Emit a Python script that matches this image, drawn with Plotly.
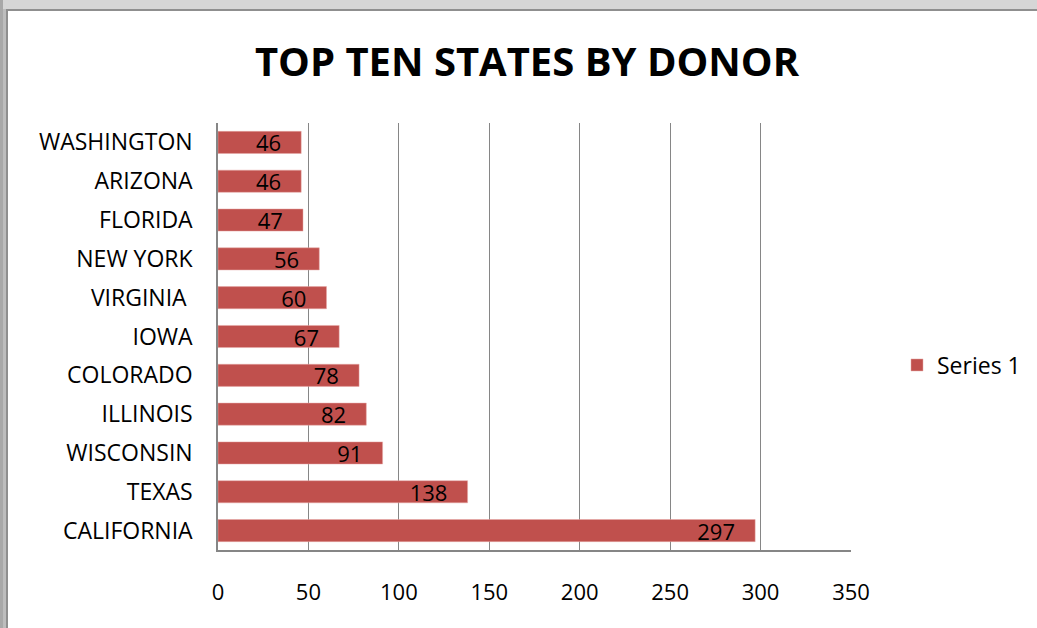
import plotly.graph_objects as go

states = ["CALIFORNIA", "TEXAS", "WISCONSIN", "ILLINOIS", "COLORADO", "IOWA",
          "VIRGINIA ", "NEW YORK", "FLORIDA", "ARIZONA", "WASHINGTON"]
donors = [297, 138, 91, 82, 78, 67, 60, 56, 47, 46, 46]
x_ticks = [0, 50, 100, 150, 200, 250, 300, 350]
series_name = "Series 1"

W, H = 1037, 628
ML, MR, MT, MB = 218, 186, 123, 78
PW, PH = W - ML - MR, H - MT - MB

def px_x(p):
    return (p - ML) / PW

def px_y(p):
    return (H - MB - p) / PH

FONT = "Open Sans"
BAR = "#C0504D"
AXIS = "#868686"
PAD = "\u00a0\u00a0\u00a0"

fig = go.Figure(go.Bar(
    y=states, x=donors, orientation="h", name=series_name,
    marker=dict(color=BAR, line=dict(color="#E6A8A6", width=0.5)),
    width=0.57,
    text=[str(v) + PAD for v in donors], textposition="inside", insidetextanchor="end",
    textangle=0, constraintext="none",
    textfont=dict(family=FONT, size=22, color="black"),
    showlegend=True,
))

shapes = [
    dict(type="rect", xref="paper", yref="paper", x0=px_x(0), x1=px_x(W), y0=px_y(H), y1=px_y(0),
         fillcolor="#d6d6d6", line=dict(width=0), layer="below"),
    dict(type="rect", xref="paper", yref="paper", x0=px_x(0), x1=px_x(3), y0=px_y(H), y1=px_y(0),
         fillcolor="#a8a8a8", line=dict(width=0), layer="below"),
    dict(type="rect", xref="paper", yref="paper", x0=px_x(3), x1=px_x(6), y0=px_y(H), y1=px_y(9),
         fillcolor="#bdbdbd", line=dict(width=0), layer="below"),
    dict(type="rect", xref="paper", yref="paper", x0=px_x(6), x1=px_x(W), y0=px_y(11), y1=px_y(9),
         fillcolor="#8f8f8f", line=dict(width=0), layer="below"),
    dict(type="rect", xref="paper", yref="paper", x0=px_x(6), x1=px_x(8), y0=px_y(H), y1=px_y(9),
         fillcolor="#8f8f8f", line=dict(width=0), layer="below"),
    dict(type="rect", xref="paper", yref="paper", x0=px_x(8), x1=px_x(W), y0=px_y(H), y1=px_y(11),
         fillcolor="white", line=dict(width=0), layer="below"),
]

fig.update_layout(
    width=W, height=H, autosize=False,
    margin=dict(l=ML, r=MR, t=MT, b=MB, autoexpand=False),
    paper_bgcolor="white", plot_bgcolor="white",
    title=dict(text="<b>TOP TEN STATES BY DONOR</b>", x=(257 + 797) / 2 / W, xanchor="center",
               y=1 - 62 / H, yanchor="middle", yref="container",
               font=dict(family=FONT, size=40, color="black")),
    xaxis=dict(range=[0, 350], tickvals=x_ticks, showgrid=True, gridcolor=AXIS, gridwidth=1,
               showline=True, linecolor=AXIS, linewidth=1.5, zeroline=False,
               ticks="", ticklabelstandoff=22, automargin=False,
               tickfont=dict(family=FONT, size=22, color="black"), fixedrange=True),
    yaxis=dict(showline=True, linecolor=AXIS, linewidth=1.5, showgrid=False, ticks="",
               ticklabelstandoff=19, automargin=False,
               tickfont=dict(family=FONT, size=23, color="black"),
               categoryorder="array", categoryarray=states),
    legend=dict(xref="container", yref="container", x=897 / W, y=1 - 365 / H,
                xanchor="left", yanchor="middle",
                font=dict(family=FONT, size=23, color="black"), bgcolor="rgba(0,0,0,0)"),
    shapes=shapes,
)

post = ("document.documentElement.style.margin='0';document.documentElement.style.overflow='hidden';"
        "document.body.style.margin='0';document.body.style.padding='0';document.body.style.overflow='hidden';"
        "var gd=document.getElementById('{plot_id}');Plotly.relayout(gd,{width:%d,height:%d});" % (W, H))

fig.write_html("out.html", config={"displayModeBar": False, "responsive": False},
               post_script=post)
